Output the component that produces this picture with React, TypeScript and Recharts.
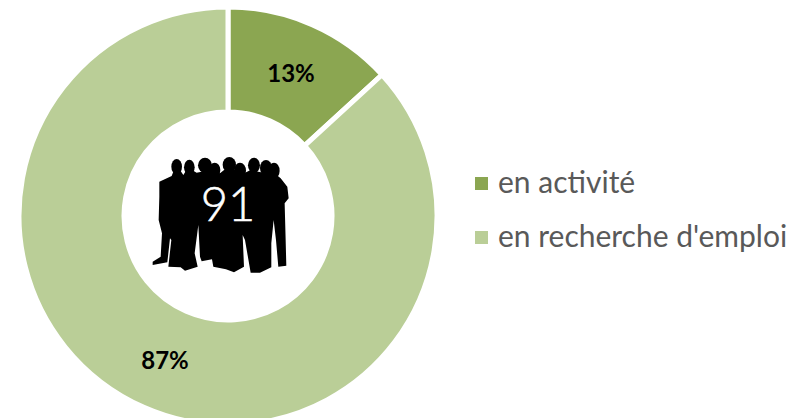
import React from "react";
import { PieChart, Pie, Cell, Legend } from "recharts";

const categories = ["en activité", "en recherche d'emploi"];
const values = [12, 79];
const percentLabels = ["13%", "87%"];
const totalLabel = "91";
const colors = ["#8BA651", "#BACE97"];

const chartData = categories.map((name, i) => ({ name, value: values[i], pct: percentLabels[i] }));

const RAD = Math.PI / 180;
const renderLabel = (p: any) => {
  const r = (p.innerRadius + p.outerRadius) / 2;
  const x = p.cx + r * Math.cos(-p.midAngle * RAD);
  const y = p.cy + r * Math.sin(-p.midAngle * RAD);
  return (
    <text x={x} y={y} textAnchor="middle" dominantBaseline="central" fill="#000"
      style={{ fontFamily: "Lato, sans-serif", fontWeight: 700, fontSize: 24 }}>
      {p.payload.pct}
    </text>
  );
};

const heads: [number, number, number, number][] = [
  [140, 80, 16, 23], [178, 82, 16, 23], [225, 76, 21, 23], [254, 90, 17, 22], [298, 74, 20, 23],
  [330, 92, 18, 24], [372, 76, 18, 23], [408, 84, 18, 24], [432, 92, 17, 24],
];
const crowd =
  "M88 125 L125 108 L132 90 L150 90 L160 105 L168 92 L190 92 L200 98 L240 90 L270 100 L285 88 L315 90 L345 98 L362 90 L385 95 L440 105 L452 115 L472 140 L476 175 L464 190 L467 300 L469 377 L445 380 L438 300 L431 240 L424 310 L424 382 L390 398 L362 398 L345 300 L338 285 L342 380 L312 397 L288 388 L250 380 L246 358 L215 364 L210 350 L205 255 L194 340 L203 380 L165 392 L152 382 L115 380 L124 300 L120 295 L112 367 L68 375 L68 365 L92 350 L96 280 L86 240 L88 170 Z";

const renderLegend = (props: any) => (
  <div style={{ fontFamily: "Lato, sans-serif", fontSize: 30, color: "#595959" }}>
    {props.payload.map((e: any) => (
      <div key={e.value} style={{ display: "flex", alignItems: "center", height: 54, whiteSpace: "nowrap" }}>
        <span style={{ width: 13, height: 13, background: e.color, marginRight: 10, flex: "none" }} />
        <span style={{ position: "relative", top: -2 }}>{e.value}</span>
      </div>
    ))}
  </div>
);

export default function App() {
  return (
    <div style={{ position: "absolute", left: 0, top: 0, width: 794, height: 418, overflow: "hidden", background: "#fff" }}>
      <PieChart width={794} height={418} margin={{ top: 0, right: 0, bottom: 0, left: 0 }}>
        <Pie
          data={chartData}
          dataKey="value"
          nameKey="name"
          cx={228}
          cy={216}
          innerRadius={104}
          outerRadius={209}
          startAngle={90}
          endAngle={-270}
          stroke="#fff"
          strokeWidth={5}
          label={renderLabel}
          labelLine={false}
          isAnimationActive={false}
        >
          {chartData.map((d, i) => <Cell key={d.name} fill={colors[i]} />)}
        </Pie>
        <Legend
          layout="vertical"
          content={renderLegend}
          wrapperStyle={{ position: "absolute", left: 475, top: 156, width: 319, bottom: "auto" }}
        />
      </PieChart>
      <svg width={794} height={418} style={{ position: "absolute", left: 0, top: 0, pointerEvents: "none" }}>
        <g transform="translate(130 140) scale(0.3333)" fill="#000">
          {heads.map(([cx, cy, rx, ry], i) => <ellipse key={i} cx={cx} cy={cy} rx={rx} ry={ry} />)}
          <path d={crowd} />
        </g>
        <text x={228} y={221} textAnchor="middle" fill="#fff" stroke="#fff" strokeWidth={0.6}
          style={{ fontFamily: "Lato, sans-serif", fontWeight: 300, fontSize: 47 }}>
          {totalLabel}
        </text>
      </svg>
    </div>
  );
}
